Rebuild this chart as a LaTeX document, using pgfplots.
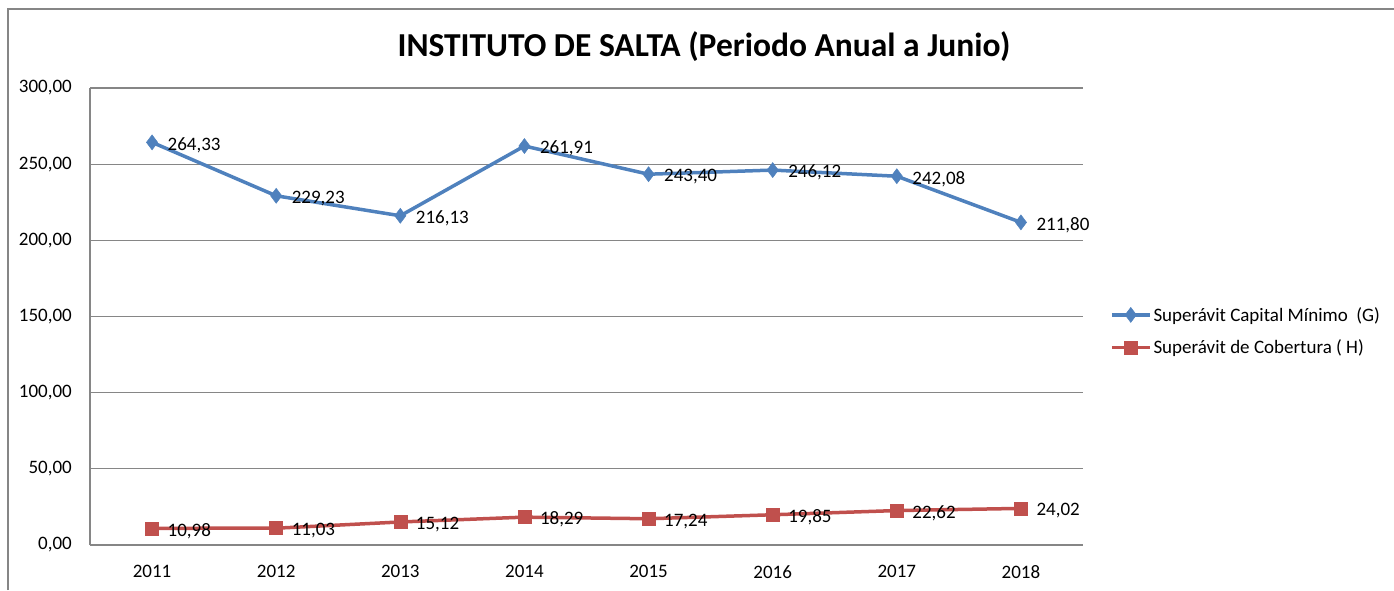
\documentclass[border=0pt]{standalone}
\usepackage{pgfplots}
\pgfplotsset{compat=1.18}
\usepackage{fontspec}
\setmainfont{Carlito}
\definecolor{blueS}{HTML}{4F81BD}
\definecolor{redS}{HTML}{C0504D}
\definecolor{gridg}{HTML}{868686}
\begin{document}
\begin{tikzpicture}[x=1pt,y=1pt]
\useasboundingbox (0,0) rectangle (1394,590);
\draw[gridg, line width=1.5pt] (8,0) -- (8,581) -- (1394,581);
\node[font=\fontsize{33.5}{40}\selectfont\bfseries, text=black] at (704,543) {INSTITUTO DE SALTA (Periodo Anual a Junio)};
\begin{axis}[
  at={(90pt,45pt)}, anchor=south west, scale only axis,
  width=993pt, height=457pt,
  xmin=-0.5, xmax=7.5, ymin=0, ymax=300,
  xtick={0,1,2,3,4,5,6,7},
  xticklabels={2011,2012,2013,2014,2015,2016,2017,2018},
  ytick={0,50,100,150,200,250,300},
  axis x line*=bottom, axis y line*=left,
  axis line style={-, gridg, line width=1.5pt},
  major tick length=0pt,
  ymajorgrids,
  major grid style={gridg, line width=1.3pt},
  /pgf/number format/.cd, fixed, zerofill, precision=2, use comma, 1000 sep={},
  /pgfplots/.cd,
  /pgf/number format/assume math mode=true,
  tick label style={font=\fontsize{19}{22}\selectfont, text=black},
  yticklabel style={anchor=east, inner sep=0pt, xshift=-18pt},
  xticklabel style={anchor=north, inner sep=0pt, yshift=-20pt},
  nodes near coords,
  every node near coord/.append style={anchor=west, xshift=12pt, yshift=-2.5pt, font=\fontsize{19}{22}\selectfont, text=black},
  legend style={at={(1.027,0.468)}, anchor=west, draw=none, fill=none,
    font=\fontsize{19}{22}\selectfont, row sep=13pt, inner sep=0pt},
  legend cell align=left,
  legend image code/.code={\draw[mark repeat=2,mark phase=2,#1] plot coordinates {(0pt,0pt) (19pt,0pt) (38pt,0pt)};},
]
\addplot[blueS, line width=3.5pt, mark=diamond*, mark size=7.5pt, mark options={solid, line width=0.5pt}]
  coordinates {(0,264.33) (1,229.23) (2,216.13) (3,261.91) (4,243.40) (5,246.12) (6,242.08) (7,211.80)};
\addlegendentry{Superávit Capital Mínimo\ \ (G)}
\addplot[redS, line width=3.5pt, mark=square*, mark size=6.5pt, mark options={solid, line width=0.5pt}]
  coordinates {(0,10.98) (1,11.03) (2,15.12) (3,18.29) (4,17.24) (5,19.85) (6,22.62) (7,24.02)};
\addlegendentry{Superávit de Cobertura ( H)}
\end{axis}
\end{tikzpicture}
\end{document}
